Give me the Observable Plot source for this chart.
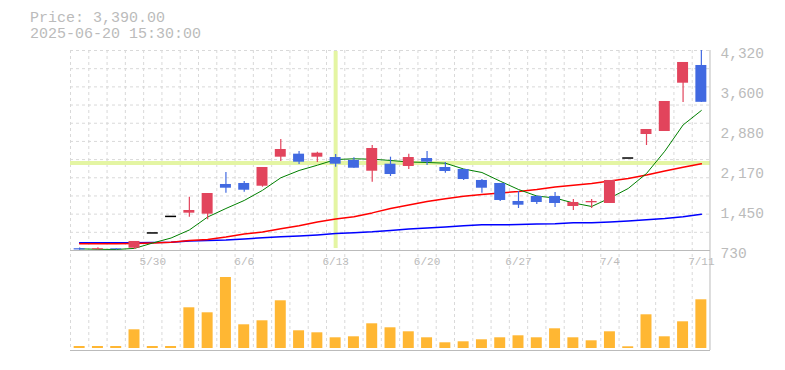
<!DOCTYPE html>
<html><head><meta charset="utf-8">
<script src="https://cdn.jsdelivr.net/npm/d3@7"></script>
<script src="https://cdn.jsdelivr.net/npm/@observablehq/plot@0.6"></script>
<style>
html,body{margin:0;padding:0;background:#fff;}
#wrap{position:relative;width:785px;height:370px;overflow:hidden;font-family:"Liberation Mono",monospace;}
#wrap svg{position:absolute;left:0;top:0;}
#info{position:absolute;left:30px;top:11px;font-size:15px;line-height:15.6px;color:#bbb;white-space:pre;z-index:2;}
</style></head><body>
<div id="wrap"><div id="info"></div></div>
<script>
// ---- data ----
const infoLines = ["Price: 3,390.00", "2025-06-20 15:30:00"];
const dates = ["5/26","5/27","5/28","5/29","5/30","6/2","6/3","6/4","6/5","6/6","6/9","6/10","6/11","6/12","6/13","6/16","6/17","6/18","6/19","6/20","6/23","6/24","6/25","6/26","6/27","6/30","7/1","7/2","7/3","7/4","7/7","7/8","7/9","7/10","7/11"];
const open  = [762,745,760,771,1045,1342,1400,1382,1915,1933,1884,2405,2459,2405,2399,2346,2153,2279,2238,2381,2220,2184,1987,1933,1610,1699,1699,1520,1586,1574,2390,2812,2866,3733,4051];
const high  = [775,780,762,892,1045,1342,1687,1753,2130,1969,2220,2722,2507,2494,2453,2394,2615,2405,2459,2507,2310,2184,2004,1933,1789,1712,1771,1645,1645,1987,2390,2902,3405,4105,4320];
const low   = [735,740,738,748,1045,1342,1328,1281,1759,1777,1866,2328,2274,2310,2225,2207,1956,2058,2184,2256,2118,1987,1759,1610,1484,1556,1502,1448,1484,1574,2390,2615,2866,3387,3387];
const close = [740,762,745,892,1045,1342,1448,1753,1848,1812,2220,2543,2315,2477,2279,2207,2561,2094,2399,2315,2148,2004,1848,1628,1543,1592,1574,1592,1610,1987,2390,2902,3405,4105,3390];
const volume = [20,20,20,187,20,20,407,357,710,237,277,477,177,157,107,117,247,207,167,107,57,67,87,107,127,107,197,107,77,167,17,337,117,267,487];
const ma5  = [760,752,748,768,865,954,1098,1331,1484,1628,1810,2035,2166,2261,2363,2376,2369,2346,2319,2310,2297,2193,2130,1974,1825,1708,1672,1583,1520,1672,1843,2112,2512,2983,3243];
const ma25 = [850,850,850,856,865,879,910,927,972,1026,1062,1120,1175,1240,1294,1335,1405,1485,1547,1610,1660,1705,1735,1762,1789,1825,1870,1902,1933,1978,2022,2085,2157,2225,2286];
const ma75 = [868,868,868,870,874,879,901,910,918,936,960,978,992,1010,1035,1050,1065,1090,1115,1135,1152,1173,1191,1191,1197,1206,1209,1227,1227,1242,1260,1283,1304,1335,1382];
const yTicks = [730,1450,2170,2880,3600,4320];
const xTicks = ["5/30","6/6","6/13","6/20","6/27","7/4","7/11"];
const crossDate = "6/13";
const crossPrice = 2300;

// ---- styles ----
const UP = "#e2445c", DOWN = "#4169e1", VOL = "#ffb733";
const GRID = "#d9d9d9", AXIS = "#bbbbbb", CROSS = "#e4f5a3";

document.getElementById("info").textContent = infoLines.join("\n");

const rows = dates.map((d, i) => ({date: d, open: open[i], high: high[i], low: low[i], close: close[i],
  volume: volume[i], ma5: ma5[i], ma25: ma25[i], ma75: ma75[i]}));
const colorOf = d => d.close > d.open ? UP : d.close < d.open ? DOWN : "#000";
const step = 640 / dates.length;
const gridY = d3.range(12).map(k => 730 + k * (4320 - 730) / 11);
const xOpts = {type: "band", domain: dates, range: [70, 710], paddingInner: 0.4, paddingOuter: 0.2, align: 0.5, round: false};
const base = {width: 785, height: 370, marginLeft: 70, marginRight: 75};
const style = {background: "transparent", fontFamily: "'Liberation Mono', monospace", color: AXIS, overflow: "visible"};

const price = Plot.plot({
  ...base, marginTop: 50, marginBottom: 120, style,
  x: {...xOpts, label: null},
  y: {domain: [730, 4320], range: [250, 50], label: null},
  marks: [
    Plot.ruleY(gridY, {stroke: GRID, strokeDasharray: "3,3"}),
    Plot.ruleX(dates, {x: d => d, dx: -step / 2, insetBottom: -100, stroke: GRID, strokeDasharray: "3,3"}),
    Plot.ruleX([crossDate], {x: d => d, stroke: CROSS, strokeWidth: 4, insetTop: 1, insetBottom: 2}),
    Plot.ruleY([crossPrice], {y: d => d, stroke: CROSS, strokeWidth: 4}),
    Plot.ruleY([730], {y: d => d, stroke: AXIS}),
    Plot.ruleX([dates[dates.length - 1]], {x: d => d, dx: step / 2 - 0.5, insetBottom: -100, stroke: AXIS}),
    Plot.lineY(rows, {x: "date", y: "ma75", stroke: "#0000ff", strokeWidth: 1.5}),
    Plot.lineY(rows, {x: "date", y: "ma25", stroke: "#ff0000", strokeWidth: 1.5}),
    Plot.lineY(rows, {x: "date", y: "ma5", stroke: "#008000", strokeWidth: 1}),
    Plot.ruleX(rows.filter(d => d.high > d.low), {x: "date", y1: "low", y2: "high", stroke: colorOf, strokeWidth: 1.2}),
    Plot.barY(rows.filter(d => d.open !== d.close), {x: "date", y1: "open", y2: "close", fill: colorOf}),
    Plot.tickY(rows.filter(d => d.open === d.close), {x: "date", y: "close", stroke: "#000", strokeWidth: 1.5}),
    Plot.axisY({anchor: "right", ticks: yTicks, tickSize: 0, tickPadding: 10, dy: 3, label: null,
      tickFormat: d3.format(","), fontSize: 14.5, fill: AXIS}),
    Plot.axisX({anchor: "bottom", ticks: xTicks, tickSize: 0, tickPadding: 7, label: null, fontSize: 11, fill: AXIS})
  ]
});

const vol = Plot.plot({
  ...base, marginTop: 260, marginBottom: 22, style,
  x: {...xOpts, axis: null},
  y: {domain: [0, 880], axis: null},
  marks: [
    Plot.barY(rows, {x: "date", y: "volume", fill: VOL}),
    Plot.ruleY([0], {y: d => d, dy: 2, stroke: AXIS})
  ]
});

const wrap = document.getElementById("wrap");
wrap.appendChild(price);
wrap.appendChild(vol);
</script>
</body></html>
